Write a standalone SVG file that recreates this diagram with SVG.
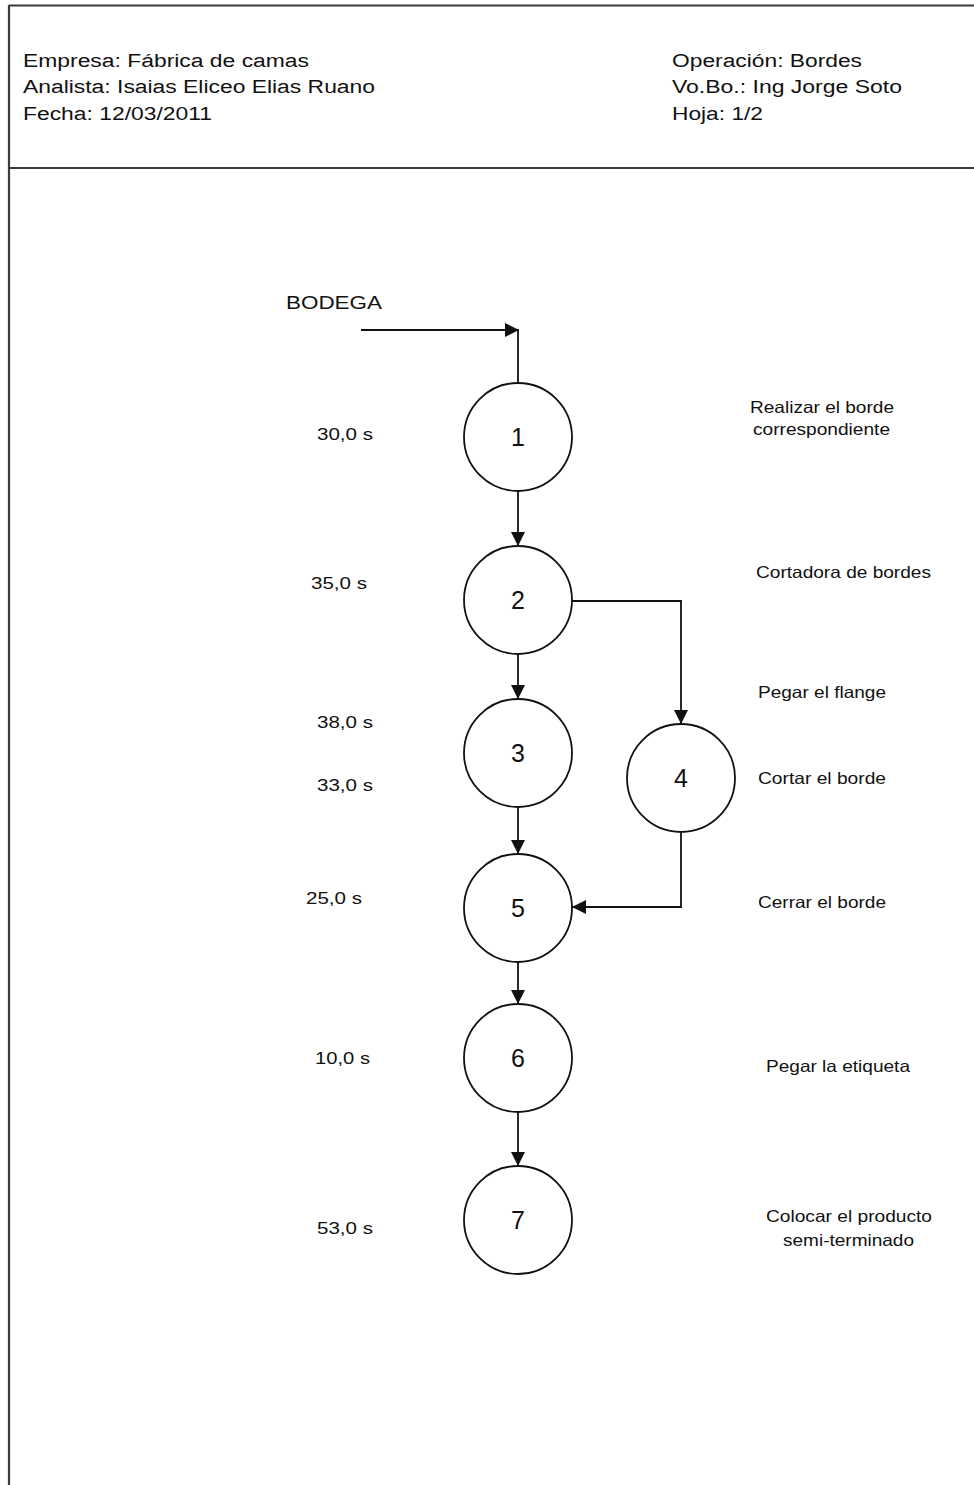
<svg xmlns="http://www.w3.org/2000/svg" width="974" height="1485" viewBox="0 0 974 1485">
<style>
.frame{stroke:#3a3a3a;stroke-width:2.2;fill:none}
.hdr{font-family:"Liberation Sans",Arial,sans-serif;font-size:18px;fill:#111}
.t{font-family:"Liberation Sans",Arial,sans-serif;font-size:16.5px;fill:#111}
.d{font-family:"Liberation Sans",Arial,sans-serif;font-size:16.5px;fill:#111}
.num{font-family:"Liberation Sans",Arial,sans-serif;font-size:25px;fill:#111;text-anchor:middle}
.node circle{fill:#fff;stroke:#111;stroke-width:1.8}
.conn{stroke:#111;stroke-width:1.8;fill:none}
</style>
<defs>
<marker id="ah" markerUnits="userSpaceOnUse" markerWidth="16" markerHeight="14" refX="14" refY="7" orient="auto">
<path d="M0,0 L14,7 L0,14 z" fill="#111"/>
</marker>
</defs>
<rect width="974" height="1485" fill="#fff"/>
<g id="frame">
<line class="frame" x1="9" y1="5.5" x2="974" y2="5.5"/>
<line class="frame" x1="9" y1="168" x2="974" y2="168"/>
<line class="frame" x1="9" y1="5" x2="9" y2="1485"/>
</g>
<g id="header">
<text class="hdr" x="23" y="67" textLength="286" lengthAdjust="spacingAndGlyphs">Empresa: Fábrica de camas</text>
<text class="hdr" x="23" y="93" textLength="352" lengthAdjust="spacingAndGlyphs">Analista: Isaias Eliceo Elias Ruano</text>
<text class="hdr" x="23" y="120" textLength="189" lengthAdjust="spacingAndGlyphs">Fecha: 12/03/2011</text>
<text class="hdr" x="672" y="67" textLength="190" lengthAdjust="spacingAndGlyphs">Operación: Bordes</text>
<text class="hdr" x="672" y="93" textLength="230" lengthAdjust="spacingAndGlyphs">Vo.Bo.: Ing Jorge Soto</text>
<text class="hdr" x="672" y="120" textLength="91" lengthAdjust="spacingAndGlyphs">Hoja: 1/2</text>
</g>
<g id="bodega">
<text class="hdr" x="286" y="309" font-size="19.5" textLength="96" lengthAdjust="spacingAndGlyphs">BODEGA</text>
</g>
<g id="connectors">
<path class="conn" d="M361,330 H519" marker-end="url(#ah)"/>
<path class="conn" d="M518,330 V383"/>
<path class="conn" d="M518,491 V546" marker-end="url(#ah)"/>
<path class="conn" d="M518,654 V699" marker-end="url(#ah)"/>
<path class="conn" d="M572,601 H681 V724" marker-end="url(#ah)"/>
<path class="conn" d="M518,807 V854" marker-end="url(#ah)"/>
<path class="conn" d="M681,832 V907 H572" marker-end="url(#ah)"/>
<path class="conn" d="M518,962 V1004" marker-end="url(#ah)"/>
<path class="conn" d="M518,1112 V1166" marker-end="url(#ah)"/>
</g>
<g id="node1" class="node"><circle cx="518" cy="437" r="54"/><text class="num" x="518" y="446">1</text></g>
<g id="node2" class="node"><circle cx="518" cy="600" r="54"/><text class="num" x="518" y="609">2</text></g>
<g id="node3" class="node"><circle cx="518" cy="753" r="54"/><text class="num" x="518" y="762">3</text></g>
<g id="node4" class="node"><circle cx="681" cy="778" r="54"/><text class="num" x="681" y="787">4</text></g>
<g id="node5" class="node"><circle cx="518" cy="908" r="54"/><text class="num" x="518" y="917">5</text></g>
<g id="node6" class="node"><circle cx="518" cy="1058" r="54"/><text class="num" x="518" y="1067">6</text></g>
<g id="node7" class="node"><circle cx="518" cy="1220" r="54"/><text class="num" x="518" y="1229">7</text></g>
<g id="times">
<text class="t" x="317" y="440" textLength="56" lengthAdjust="spacingAndGlyphs">30,0 s</text>
<text class="t" x="311" y="589" textLength="56" lengthAdjust="spacingAndGlyphs">35,0 s</text>
<text class="t" x="317" y="728" textLength="56" lengthAdjust="spacingAndGlyphs">38,0 s</text>
<text class="t" x="317" y="791" textLength="56" lengthAdjust="spacingAndGlyphs">33,0 s</text>
<text class="t" x="306" y="904" textLength="56" lengthAdjust="spacingAndGlyphs">25,0 s</text>
<text class="t" x="315" y="1064" textLength="55" lengthAdjust="spacingAndGlyphs">10,0 s</text>
<text class="t" x="317" y="1234" textLength="56" lengthAdjust="spacingAndGlyphs">53,0 s</text>
</g>
<g id="descriptions">
<text class="d" x="750" y="413" textLength="144" lengthAdjust="spacingAndGlyphs">Realizar el borde</text>
<text class="d" x="753" y="435" textLength="137" lengthAdjust="spacingAndGlyphs">correspondiente</text>
<text class="d" x="756" y="578" textLength="175" lengthAdjust="spacingAndGlyphs">Cortadora de bordes</text>
<text class="d" x="758" y="698" textLength="128" lengthAdjust="spacingAndGlyphs">Pegar el flange</text>
<text class="d" x="758" y="784" textLength="128" lengthAdjust="spacingAndGlyphs">Cortar el borde</text>
<text class="d" x="758" y="908" textLength="128" lengthAdjust="spacingAndGlyphs">Cerrar el borde</text>
<text class="d" x="766" y="1072" textLength="144" lengthAdjust="spacingAndGlyphs">Pegar la etiqueta</text>
<text class="d" x="766" y="1222" textLength="166" lengthAdjust="spacingAndGlyphs">Colocar el producto</text>
<text class="d" x="783" y="1246" textLength="131" lengthAdjust="spacingAndGlyphs">semi-terminado</text>
</g>
</svg>
